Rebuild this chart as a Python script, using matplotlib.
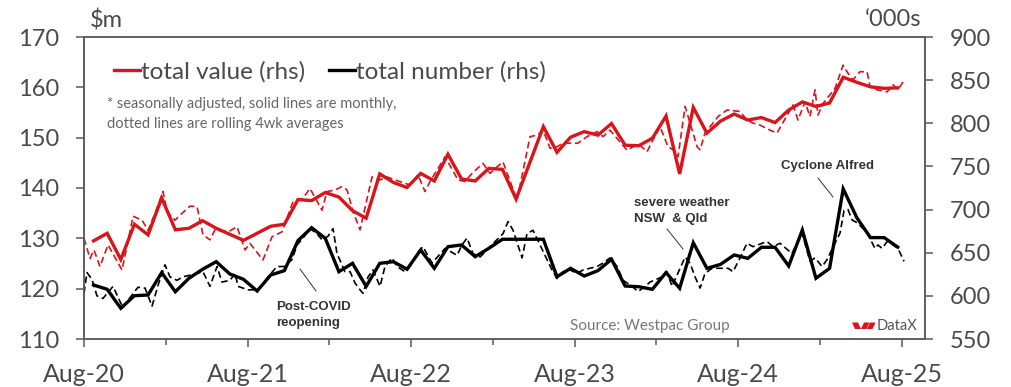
"""Card payments chart: total value ($m, lhs) vs total number ('000s, rhs), monthly + 4wk avg."""

import matplotlib

matplotlib.use("Agg")
import matplotlib.pyplot as plt
from matplotlib.lines import Line2D
from matplotlib.patches import Polygon
from matplotlib.ticker import FixedLocator

W_PX, H_PX = 1011, 387

# x axis: months since Aug-20
TICK_POS = [0, 12, 24, 36, 48, 60]
TICK_LABELS = ["Aug-20", "Aug-21", "Aug-22", "Aug-23", "Aug-24", "Aug-25"]

# monthly points, Aug-20 .. Jul-25 (plotted late in each month)
MONTH_OFFSET = 0.7
VALUE_MONTHLY = [
    129.5, 131.0, 125.8, 132.8, 130.7, 138.0, 131.7, 132.0, 133.5, 132.0,
    130.8, 129.6, 131.0, 132.4, 132.8, 137.7, 137.5, 139.1, 138.2, 135.5,
    134.0, 142.8, 141.1, 140.1, 142.9, 141.4, 146.7, 141.8, 141.4, 143.9,
    143.7, 137.8, 145.0, 152.2, 147.1, 150.1, 151.2, 150.5, 152.8, 148.5,
    148.4, 149.9, 154.3, 142.8, 156.0, 150.9, 153.3, 154.7, 153.5, 154.0,
    153.0, 155.5, 157.1, 156.2, 156.9, 162.0, 161.0, 160.1, 159.8, 159.9,
]
NUMBER_MONTHLY = [
    612.6, 607.6, 585.6, 600.2, 601.0, 626.9, 604.8, 620.4, 630.8, 639.6,
    625.3, 619.2, 605.6, 624.2, 629.2, 664.0, 679.0, 666.7, 628.0, 637.7,
    611.0, 637.7, 639.6, 630.8, 653.2, 631.9, 657.0, 659.0, 645.4, 655.1,
    665.6, 665.6, 665.6, 665.6, 622.2, 631.9, 623.0, 629.2, 642.4, 611.4,
    610.6, 607.6, 627.0, 608.8, 661.6, 631.9, 636.5, 647.4, 643.5, 656.3,
    656.3, 634.6, 676.3, 620.4, 631.9, 724.0, 690.5, 667.5, 667.5, 656.5,
]

# rolling 4wk averages (weekly), turning points
VALUE_4WK_X = [
    0.00, 0.44, 0.73, 1.17, 1.76, 2.79, 3.60, 4.26, 4.70, 5.21, 5.80, 6.09,
    6.68, 7.04, 7.78, 8.29, 8.73, 9.24, 9.61, 10.12, 10.71, 11.23, 11.81,
    12.18, 12.55, 13.13, 13.79, 14.53, 15.11, 15.33, 16.07, 16.58, 17.46,
    17.83, 18.42, 18.93, 19.30, 19.74, 20.25, 21.13, 21.72, 22.23, 22.82,
    23.92, 24.50, 25.02, 25.39, 26.49, 27.44, 27.95, 28.47, 29.27, 29.79,
    30.30, 30.74, 31.40, 31.77, 32.72, 33.24, 33.68, 34.19, 34.70, 35.14,
    36.24, 36.90, 37.64, 38.08, 38.59, 39.84, 40.28, 40.79, 41.31, 41.75,
    42.26, 42.85, 43.22, 43.58, 44.10, 44.98, 45.20, 45.56, 46.52, 47.18,
    48.13, 48.64, 49.08, 49.60, 50.33, 50.84, 52.02, 52.38, 52.90, 53.26,
    53.63, 53.85, 54.22, 55.10, 55.69, 56.05, 56.42, 56.93, 57.45, 57.67,
    58.18, 58.92, 59.36, 59.72, 60.09,
]
VALUE_4WK = [
    130.0, 126.0, 127.7, 124.4, 128.7, 123.7, 134.4, 133.6, 131.6, 135.0,
    139.3, 135.3, 133.6, 134.6, 136.4, 136.3, 130.7, 129.7, 131.7, 131.5,
    131.5, 132.3, 127.7, 129.0, 127.7, 125.7, 130.3, 131.3, 135.6, 137.3,
    138.0, 139.9, 135.6, 139.3, 139.6, 140.3, 139.6, 135.3, 131.7, 142.2,
    141.6, 142.2, 141.6, 140.6, 142.6, 139.3, 141.3, 146.2, 141.6, 141.3,
    142.9, 144.9, 142.9, 144.2, 145.2, 140.3, 137.6, 150.2, 150.5, 151.5,
    147.9, 148.2, 148.9, 148.9, 150.2, 151.2, 150.2, 151.5, 147.5, 148.2,
    148.5, 147.2, 149.6, 152.2, 148.2, 147.6, 146.2, 156.2, 148.2, 147.6,
    150.9, 154.2, 155.5, 155.2, 153.5, 152.9, 152.5, 151.5, 150.9, 156.5,
    153.5, 157.1, 154.2, 159.5, 154.5, 156.8, 159.8, 164.4, 162.8, 161.5,
    163.1, 163.1, 160.1, 159.5, 159.1, 160.5, 159.5, 161.1,
]
NUMBER_4WK_X = [
    0.00, 0.22, 0.59, 0.95, 1.39, 2.13, 2.86, 3.23, 3.96, 4.48, 4.99, 5.43,
    5.94, 6.31, 6.82, 7.26, 7.78, 8.29, 8.73, 9.24, 9.76, 10.12, 10.71,
    11.08, 11.30, 12.03, 12.69, 13.06, 13.50, 14.16, 14.67, 15.26, 15.63,
    16.07, 16.58, 17.09, 17.46, 17.90, 18.27, 18.56, 19.15, 19.52, 19.88,
    20.25, 20.47, 20.84, 21.20, 21.72, 22.08, 22.60, 22.96, 23.55, 23.92,
    24.43, 24.87, 25.53, 26.49, 27.37, 27.73, 28.10, 28.54, 29.06, 30.16,
    30.74, 31.11, 31.48, 32.14, 32.50, 32.94, 33.97, 34.34, 34.70, 35.14,
    35.66, 36.17, 36.61, 37.64, 38.08, 38.59, 39.11, 39.55, 40.21, 40.65,
    41.16, 41.53, 42.41, 42.77, 43.14, 44.10, 44.46, 44.83, 45.20, 45.56,
    46.08, 46.52, 47.25, 47.62, 48.13, 48.64, 49.08, 50.11, 50.55, 51.06,
    51.94, 52.68, 53.26, 53.63, 54.15, 54.51, 55.47, 55.76, 56.05, 56.35,
    56.79, 57.45, 58.03, 58.25, 58.55, 58.92, 59.36, 59.72, 60.16,
]
NUMBER_4WK = [
    603, 627, 619, 600, 597, 611, 586, 595, 610, 609, 588, 612,
    636, 622, 618, 622, 624, 626, 628, 611, 634, 616, 618,
    626, 611, 607, 607, 612, 622, 634, 634, 642, 659,
    667, 678, 672, 665, 669, 678, 649, 628, 628, 615,
    607, 603, 622, 630, 611, 634, 644, 634, 628, 634,
    649, 657, 638, 655, 647, 659, 667, 649, 645, 663,
    672, 686, 676, 644, 672, 676, 642, 630, 620, 628,
    630, 626, 630, 634, 638, 644, 634, 618, 611, 605,
    611, 616, 622, 628, 611, 645, 638, 622, 609, 626,
    632, 632, 632, 628, 644, 661, 657, 663, 657, 661,
    649, 673, 640, 644, 634, 642, 673, 699, 700, 688,
    684, 673, 655, 659, 655, 663, 659, 655, 640,
]

RED = "#d9141b"
GREY_TXT = "#4a4a4a"
SPINE = "#5a5a5a"
FONT = "Lato"


def fx(x):
    return x / W_PX


def fy(y):
    return 1 - y / H_PX


plt.rcParams["font.family"] = [FONT, "DejaVu Sans"]

fig = plt.figure(figsize=(W_PX / 100, H_PX / 100), dpi=100)
ax = fig.add_axes([fx(84), fy(339), fx(925) - fx(84), fy(37) - fy(339)])
ax2 = ax.twinx()

months = [i + MONTH_OFFSET for i in range(len(VALUE_MONTHLY))]

ax.plot(VALUE_4WK_X, VALUE_4WK, color=RED, lw=1.2, ls=(0, (4, 2.2)), zorder=2)
(l_val,) = ax.plot(months, VALUE_MONTHLY, color=RED, lw=2.4, zorder=3,
                   solid_joinstyle="miter")
ax2.plot(NUMBER_4WK_X, NUMBER_4WK, color="black", lw=1.2, ls=(0, (4, 2.2)), zorder=2)
(l_num,) = ax2.plot(months, NUMBER_MONTHLY, color="black", lw=2.4, zorder=3,
                    solid_joinstyle="miter")

ax.set_xlim(0, 61.7)
ax.set_ylim(110, 170)
ax2.set_ylim(550, 900)
ax.set_yticks(range(110, 171, 10))
ax2.set_yticks(range(550, 901, 50))
ax.set_xticks(TICK_POS)
ax.set_xticklabels(TICK_LABELS)
ax.xaxis.set_minor_locator(FixedLocator([6, 18, 30, 42, 54]))

for a in (ax, ax2):
    for s in a.spines.values():
        s.set_color(SPINE)
        s.set_linewidth(1.1)
    a.tick_params(axis="both", which="major", direction="out", length=6,
                  width=1.1, color=SPINE, labelsize=17, labelcolor=GREY_TXT,
                  pad=12)
ax.tick_params(axis="x", which="minor", direction="out", length=4, width=1.1,
               color=SPINE)
ax.tick_params(axis="x", which="major", labelsize=18, pad=11)

# unit labels
fig.text(fx(90), fy(20), "$m", fontsize=17, color=GREY_TXT, ha="left",
         va="center")
fig.text(fx(921), fy(20), "\u2018000s", fontsize=17, color=GREY_TXT, ha="right",
         va="center")

leg = ax.legend([l_val, l_num], ["total value (rhs)", "total number (rhs)"],
                ncol=2, loc="center left", bbox_to_anchor=(fx(114), fy(72)),
                bbox_transform=fig.transFigure, frameon=False, fontsize=17.5,
                handlelength=1.05, handletextpad=0.05, columnspacing=1.0,
                borderpad=0, borderaxespad=0)
for t in leg.get_texts():
    t.set_color(GREY_TXT)

fig.text(fx(107), fy(104), "* seasonally adjusted, solid lines are monthly,",
         fontsize=10.5, color="#666666", ha="left", va="center")
fig.text(fx(107), fy(124), "dotted lines are rolling 4wk averages",
         fontsize=10.5, color="#666666", ha="left", va="center")

# event annotations
ann = dict(fontsize=9.5, fontweight="bold", color="#333333",
           family=["Liberation Sans", "DejaVu Sans"], ha="left", va="center",
           linespacing=1.45)
fig.text(fx(276), fy(315), "Post-COVID\nreopening", **ann)
fig.text(fx(634), fy(211), "severe weather\nNSW  & Qld", **ann)
fig.text(fx(781), fy(166), "Cyclone Alfred", **ann)
for (x0, y0), (x1, y1) in [((300, 269), (316, 291)),
                           ((667, 229), (683, 249)),
                           ((818, 178), (833, 197))]:
    fig.add_artist(Line2D([fx(x0), fx(x1)], [fy(y0), fy(y1)],
                          color="#333333", lw=0.7))

fig.text(fx(570), fy(326), "Source: Westpac Group", fontsize=11,
         color="#777777", ha="left", va="center")

# Westpac "W" mark + DataX
for quad in ([(852, 322.5), (858, 322.5), (861, 329), (855, 329)],
             [(864, 322.5), (869.5, 322.5), (866.5, 329), (861, 329)],
             [(870, 322.5), (875.5, 322.5), (872.5, 329), (867, 329)]):
    fig.add_artist(Polygon([(fx(a), fy(b)) for a, b in quad], closed=True,
                           facecolor=RED, edgecolor="none",
                           transform=fig.transFigure))
fig.text(fx(877), fy(326), "DataX", fontsize=10.5, color="#555555", ha="left",
         va="center")

fig.savefig("out.png", dpi=100)
